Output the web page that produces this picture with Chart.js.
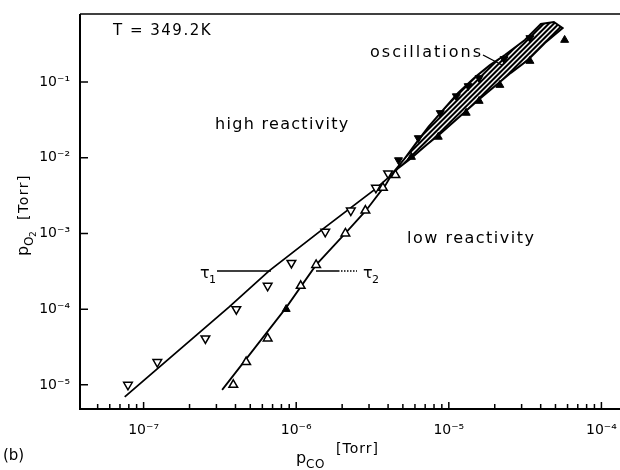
<!DOCTYPE html>
<html>
<head>
<meta charset="utf-8">
<script src="https://cdn.jsdelivr.net/npm/chart.js@4/dist/chart.umd.min.js"></script>
<style>
  html, body { margin: 0; background: #fff; }
  #wrap { width: 620px; height: 470px; }
</style>
</head>
<body>
<div id="wrap"><canvas id="chart" width="620" height="470"></canvas></div>
<script>
// ── DATA ─────────────────────────────────────────────────────────────────────
// p_CO [Torr], p_O2 [Torr]
const tau1Open = [[7.9e-8,1.0e-5],[1.23e-7,2.0e-5],[2.54e-7,4.1e-5],[4.05e-7,1.0e-4],[6.5e-7,2.03e-4],
                  [9.3e-7,4.07e-4],[1.55e-6,1.05e-3],[2.28e-6,2.0e-3],[3.33e-6,4.0e-3],[4.0e-6,6.2e-3]];
const tau2Open = [[3.87e-7,1.0e-5],[4.7e-7,2.0e-5],[6.5e-7,4.1e-5],[1.07e-6,2.03e-4],[1.35e-6,3.84e-4],
                  [2.1e-6,1.0e-3],[2.84e-6,2.0e-3],[3.7e-6,4.0e-3],[4.47e-6,5.9e-3]];
const tau1Filled = [[4.68e-6,9.3e-3],[6.31e-6,1.82e-2],[8.79e-6,3.9e-2],[1.12e-5,6.5e-2],[1.34e-5,8.85e-2],
                    [1.58e-5,0.113],[2.3e-5,0.201],[3.4e-5,0.381]];
const tau2Filled = [[8.6e-7,1.0e-4],[5.69e-6,1.02e-2],[8.53e-6,1.88e-2],[1.3e-5,3.9e-2],[1.58e-5,5.6e-2],
                    [2.16e-5,9.1e-2],[3.4e-5,0.189],[5.74e-5,0.358]];

// fitted curves
const tau1Line = [[7.52e-8,6.95e-6],[3.64e-7,1.07e-4],[6.64e-7,3.2e-4],[1.56e-6,1.22e-3],[3.31e-6,3.87e-3],[4.21e-6,5.92e-3]];
const tau2Line = [[3.27e-7,8.59e-6],[8.57e-7,1.04e-4],[1.35e-6,3.84e-4],[2.11e-6,1.02e-3],[2.85e-6,1.98e-3],[3.85e-6,4.37e-3],[4.21e-6,5.92e-3]];

// oscillation band outline: up the upper edge, back down the lower edge
const bandEdge = [[4.21e-6,5.92e-3],[5.05e-6,9.33e-3],[6.12e-6,1.57e-2],[7.35e-6,2.55e-2],[9.18e-6,4.27e-2],
                  [1.15e-5,7.16e-2],[1.49e-5,0.116],[1.86e-5,0.167],[2.33e-5,0.227],[3.15e-5,0.358],[4.01e-5,0.583],
                  [4.88e-5,0.62],[5.57e-5,0.516],[4.26e-5,0.327],[3.3e-5,0.195],[2.55e-5,0.132],[2.01e-5,8.85e-2],
                  [1.56e-5,5.78e-2],[1.15e-5,3.35e-2],[8.91e-6,2.12e-2],[7.13e-6,1.47e-2],[5.69e-6,9.93e-3],
                  [4.68e-6,7.33e-3],[4.21e-6,5.92e-3]];

// axes
const X_MIN = 3.83e-8, X_MAX = 1.2e-4;
const Y_MIN = 4.8e-6,  Y_MAX = 0.79;
const xMajor = [1e-7, 1e-6, 1e-5, 1e-4];
const xMinor = [5e-8,6e-8,7e-8,8e-8,9e-8,
                2e-7,3e-7,4e-7,5e-7,6e-7,7e-7,8e-7,9e-7,
                2e-6,3e-6,4e-6,5e-6,6e-6,7e-6,8e-6,9e-6,
                2e-5,3e-5,4e-5,5e-5,6e-5,7e-5,8e-5,9e-5];
const yMajor = [1e-5, 1e-4, 1e-3, 1e-2, 1e-1];

// ── HELPERS ──────────────────────────────────────────────────────────────────
const FONT = '"DejaVu Sans", sans-serif';
const SUP = { '-':'⁻','0':'⁰','1':'¹','2':'²','3':'³','4':'⁴','5':'⁵','6':'⁶','7':'⁷','8':'⁸','9':'⁹' };
const pow10 = v => '10' + String(Math.round(Math.log10(v))).split('').map(c => SUP[c]).join('');
const pts = arr => arr.map(([x, y]) => ({ x, y }));

function hatch() {
  const n = 5;
  const c = document.createElement('canvas');
  c.width = n; c.height = n;
  const g = c.getContext('2d');
  g.fillStyle = '#000';
  g.fillRect(0, 0, n, n);
  g.strokeStyle = '#fff';
  g.lineWidth = 1.5;
  g.beginPath();
  for (const o of [-n, 0, n]) { g.moveTo(o - 1, n + 1); g.lineTo(o + n + 1, -1); }
  g.stroke();
  return g.createPattern(c, 'repeat');
}

function txt(ctx, s, x, y, size, spacing) {
  ctx.font = `${size}px ${FONT}`;
  ctx.letterSpacing = (spacing || 0) + 'px';
  ctx.fillText(s, x, y);
}

// ── FRAME, TICKS, ANNOTATIONS ────────────────────────────────────────────────
const decor = {
  id: 'decor',
  afterDraw(chart) {
    const { ctx, chartArea: a, scales: { x, y } } = chart;
    ctx.save();
    ctx.strokeStyle = '#000';
    ctx.fillStyle = '#000';

    // axes
    ctx.lineWidth = 2;
    ctx.beginPath();
    ctx.moveTo(a.left, a.top); ctx.lineTo(a.left, a.bottom); ctx.lineTo(620, a.bottom);
    ctx.stroke();
    ctx.lineWidth = 1.5;
    ctx.beginPath();
    ctx.moveTo(a.left, a.top); ctx.lineTo(620, a.top);
    ctx.stroke();

    // inward ticks
    ctx.lineWidth = 1.5;
    ctx.beginPath();
    xMajor.forEach(v => { const p = x.getPixelForValue(v); ctx.moveTo(p, a.bottom); ctx.lineTo(p, a.bottom - 7); });
    xMinor.forEach(v => { const p = x.getPixelForValue(v); ctx.moveTo(p, a.bottom); ctx.lineTo(p, a.bottom - 5); });
    yMajor.forEach(v => { const p = y.getPixelForValue(v); ctx.moveTo(a.left, p); ctx.lineTo(a.left + 8, p); });
    ctx.stroke();

    // leader lines
    ctx.lineWidth = 1.4;
    ctx.beginPath();
    ctx.moveTo(217, 271); ctx.lineTo(271, 271);   // tau1
    ctx.moveTo(316, 271); ctx.lineTo(338, 271);   // tau2
    ctx.moveTo(483, 55);  ctx.lineTo(502, 65);    // oscillations
    ctx.stroke();
    ctx.setLineDash([1.5, 1.5]);
    ctx.beginPath();
    ctx.moveTo(338, 271); ctx.lineTo(357, 271);
    ctx.stroke();
    ctx.setLineDash([]);

    // labels
    ctx.textAlign = 'left';
    ctx.textBaseline = 'alphabetic';
    txt(ctx, 'T = 349.2K', 113, 35, 15, 1.5);
    txt(ctx, 'oscillations', 370, 57, 16, 2);
    txt(ctx, 'high reactivity', 215, 129, 16, 1.3);
    txt(ctx, 'low reactivity', 407, 243, 16, 1.5);
    txt(ctx, 'τ', 200, 278, 16);
    txt(ctx, '1', 209, 283, 11);
    txt(ctx, 'τ', 363, 278, 16);
    txt(ctx, '2', 372, 283, 11);
    txt(ctx, '(b)', 3, 460, 15);

    // x title: p_CO [Torr]
    txt(ctx, 'p', 296, 463, 16);
    txt(ctx, 'CO', 306, 468, 12, 0.5);
    txt(ctx, '[Torr]', 336, 453, 14, 1);

    // y title: p_O2 [Torr], rotated
    ctx.translate(28, 256);
    ctx.rotate(-Math.PI / 2);
    txt(ctx, 'p', 0, 0, 16);
    txt(ctx, 'O', 10, 5, 12);
    txt(ctx, '2', 19, 8, 9);
    txt(ctx, '[Torr]', 36, 0, 14, 1.5);
    ctx.restore();
  }
};

// ── CHART ────────────────────────────────────────────────────────────────────
const tickFont = { family: FONT, size: 14 };

new Chart(document.getElementById('chart'), {
  type: 'scatter',
  data: {
    datasets: [
      { data: pts(tau1Filled), pointStyle: 'triangle', rotation: 180, pointRadius: 4.6,
        backgroundColor: '#000', borderColor: '#000', borderWidth: 1, order: 1 },
      { data: pts(tau2Filled), pointStyle: 'triangle', pointRadius: 4.6,
        backgroundColor: '#000', borderColor: '#000', borderWidth: 1, order: 1 },
      { data: pts(tau1Open), pointStyle: 'triangle', rotation: 180, pointRadius: 5,
        backgroundColor: '#fff', borderColor: '#000', borderWidth: 1.5, order: 2 },
      { data: pts(tau2Open), pointStyle: 'triangle', pointRadius: 5,
        backgroundColor: '#fff', borderColor: '#000', borderWidth: 1.5, order: 2 },
      { data: pts(tau1Line), showLine: true, pointRadius: 0, borderColor: '#000', borderWidth: 1.8, order: 3 },
      { data: pts(tau2Line), showLine: true, pointRadius: 0, borderColor: '#000', borderWidth: 1.8, order: 3 },
      { data: pts(bandEdge), showLine: true, pointRadius: 0, borderColor: '#000', borderWidth: 2,
        fill: 'shape', backgroundColor: hatch(), clip: false, order: 4 },
    ],
  },
  options: {
    responsive: false, animation: false, devicePixelRatio: 1,
    layout: { padding: { top: 14, right: 4, left: 0, bottom: 0 } },
    plugins: { legend: { display: false }, tooltip: { enabled: false } },
    scales: {
      x: {
        type: 'logarithmic', min: X_MIN, max: X_MAX,
        grid: { display: false, drawTicks: false }, border: { display: false },
        afterBuildTicks: s => { s.ticks = xMajor.map(v => ({ value: v })); },
        afterFit: s => { s.height = 61; s.paddingLeft = 0; s.paddingRight = 0; s.paddingTop = 0; s.paddingBottom = 0; },
        ticks: { callback: v => pow10(v), font: tickFont, color: '#000', padding: 13, maxRotation: 0, autoSkip: false },
      },
      y: {
        type: 'logarithmic', min: Y_MIN, max: Y_MAX,
        grid: { display: false, drawTicks: false }, border: { display: false },
        afterBuildTicks: s => { s.ticks = yMajor.map(v => ({ value: v })); },
        afterFit: s => { s.width = 80; s.paddingLeft = 0; s.paddingRight = 0; s.paddingTop = 0; s.paddingBottom = 0; },
        ticks: { callback: v => pow10(v), font: tickFont, color: '#000', padding: 10, autoSkip: false },
      },
    },
  },
  plugins: [decor],
});
</script>
</body>
</html>
